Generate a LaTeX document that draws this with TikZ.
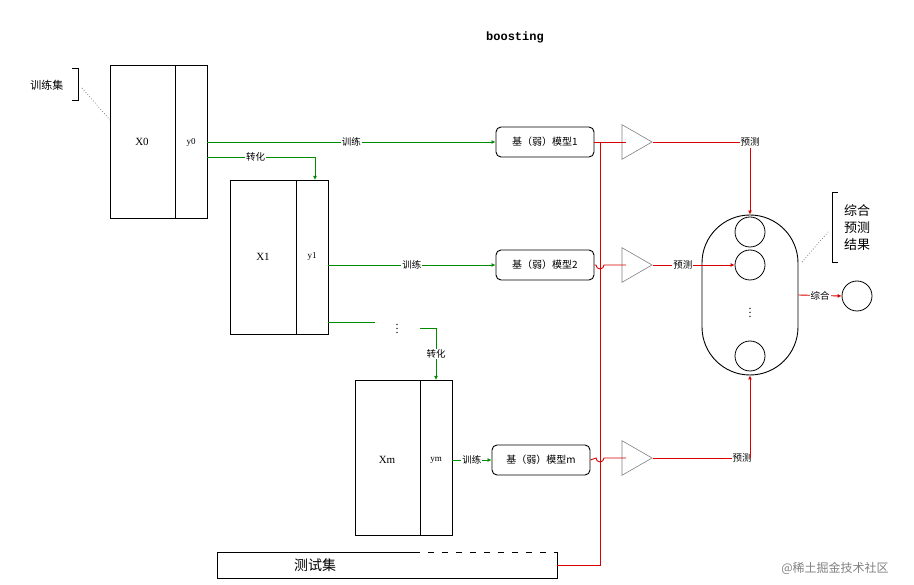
\documentclass[tikz,border=0pt]{standalone}
\usepackage{fontspec}
\setmainfont{Liberation Serif}
\newfontfamily\cjk{Noto Sans CJK SC}
\newfontfamily\mono{Liberation Mono}
\usetikzlibrary{arrows.meta,shapes.geometric}
\begin{document}
\begin{tikzpicture}[x=1pt,y=-1pt,
  box/.style={draw,line width=0.8pt},
  g/.style={draw=green!55!black,line width=0.8pt},
  r/.style={draw=red!85!black,line width=0.9pt},
  ga/.style={g,-{Latex[length=4pt,width=4pt]}},
  ra/.style={r,-{Latex[length=4pt,width=4pt]}},
  lab/.style={font=\cjk\fontsize{9.5}{10}\selectfont,fill=white,inner sep=1pt},
  model/.style={draw,line width=0.9pt,rounded corners=5pt,minimum width=98pt,minimum height=30pt,font=\cjk\fontsize{10}{11}\selectfont},
  tri/.style={draw=gray,isosceles triangle,isosceles triangle apex angle=60,minimum height=30pt,inner sep=0pt,line width=0.6pt},
  circ/.style={draw,circle,minimum size=30pt,inner sep=0pt,line width=0.8pt},
  lat/.style={font=\fontsize{11}{12}\selectfont}]
\useasboundingbox (0,0) rectangle (914,585);
\node[font=\mono\bfseries\fontsize{12}{13}\selectfont] (title) at (515,37) {boosting};
\node[font=\cjk\fontsize{11}{12}\selectfont] (tset) at (47,85) {训练集};
\draw[line width=0.6pt] (72,68) -- (78,68) -- (78,100) -- (72,100);
\coordinate (d1) at (82,88); \coordinate (d2) at (110,120);
\draw[dotted,gray,line width=0.8pt] (d1) -- (d2);
\draw[box] (110,65) rectangle (175,218); \draw[box] (175,65) rectangle (207,218);
\node[lat] (x0) at (142,142) {X0}; \node[font=\fontsize{9}{10}\selectfont] (y0) at (191,142) {y0};
\draw[box] (230,180) rectangle (296,334); \draw[box] (296,180) rectangle (328,334);
\node[lat] (x1) at (263,257) {X1}; \node[font=\fontsize{9}{10}\selectfont] (y1) at (312,257) {y1};
\draw[box] (355,380) rectangle (420,535); \draw[box] (420,380) rectangle (452,535);
\node[lat] (xm) at (387,460) {Xm}; \node[font=\fontsize{9}{10}\selectfont] (ym) at (436,460) {ym};
\node[model] (m1) at (545,142) {基（弱）模型1};
\node[model] (m2) at (545,265) {基（弱）模型2};
\node[model] (mm) at (541,460) {基（弱）模型m};
\coordinate (a0) at (207,142); \coordinate (a1) at (328,265); \coordinate (am) at (452,460);
\draw[ga] (a0) -- node[lab]{训练} (m1.west);
\draw[ga] (a1) -- node[lab]{训练} (m2.west);
\draw[ga] (am) -- node[lab]{训练} (mm.west);
\coordinate (c0) at (207,157); \coordinate (c0b) at (315,157); \coordinate (c0e) at (315,180);
\draw[g] (c0) -- node[lab,pos=.45]{转化} (c0b); \draw[ga] (c0b) -- (c0e);
\coordinate (c1) at (328,322); \coordinate (c1b) at (375,322);
\draw[g] (c1) -- (c1b);
\node[font=\fontsize{12}{12}\selectfont,inner sep=0pt] (vd) at (397,326) {$\vdots$};
\coordinate (c2) at (420,328); \coordinate (c2b) at (436,328); \coordinate (c2e) at (436,380);
\draw[g] (c2) -- (c2b); \draw[ga] (c2b) -- node[lab]{转化} (c2e);
\node[draw,line width=0.8pt,minimum width=340pt,minimum height=26pt,inner sep=0pt] (test) at (387,565) {};
\node[font=\cjk\fontsize{14}{15}\selectfont] (testl) at (315,565) {测试集};
\draw[white,line width=1.2pt,dash pattern=on 8pt off 6pt] (420,552) -- (556,552);
\coordinate (v0) at (600,565); \coordinate (vt) at (600,142);
\draw[r] (test.east) -- (v0) -- (vt);
\node[tri] (t1) at (632,142) {};
\node[tri] (t2) at (632,265) {};
\node[tri] (tm) at (632,458) {};
\draw[r] (m1.east) -- (626,142);
\draw[r] (m2.east) -- (596,265) arc (180:0:4) -- (626,265);
\draw[r] (mm.east) -- (596,458) arc (180:0:4) -- (626,458);
\node[draw,line width=0.9pt,rounded corners=48pt,minimum width=96pt,minimum height=160pt] (oval) at (750,295) {};
\node[circ] (k1) at (750,232) {};
\node[circ] (k2) at (750,265) {};
\node[font=\fontsize{12}{12}\selectfont,inner sep=0pt] (kd) at (750,310) {$\vdots$};
\node[circ] (k3) at (750,356) {};
\coordinate (p1) at (750,142);
\draw[r] (t1.apex) -- (p1);
\node[lab] (pl1) at (750,142) {预测};
\draw[ra] (pl1.south) -- (oval.north);
\draw[ra] (t2.apex) -- node[lab,pos=.37]{预测} (k2.west);
\coordinate (pm) at (750,458);
\draw[r] (tm.apex) -- (pm);
\node[lab] (plm) at (742,458) {预测};
\draw[ra] (pm) -- (oval.south);
\node[circ] (fin) at (857,296) {};
\draw[ra] (oval.east) -- node[lab]{综合} (fin.west);
\draw[line width=0.6pt] (838,192) -- (832,192) -- (832,262) -- (838,262);
\node[font=\cjk\fontsize{13}{17}\selectfont,align=left] (res) at (857,228) {综合\\预测\\结果};
\coordinate (e1) at (802,262); \coordinate (e2) at (828,232);
\draw[dotted,gray,line width=0.8pt] (e1) -- (e2);
\node[font=\cjk\fontsize{12}{13}\selectfont,text=gray] (wm) at (835,568) {@稀土掘金技术社区};
\end{tikzpicture}
\end{document}
